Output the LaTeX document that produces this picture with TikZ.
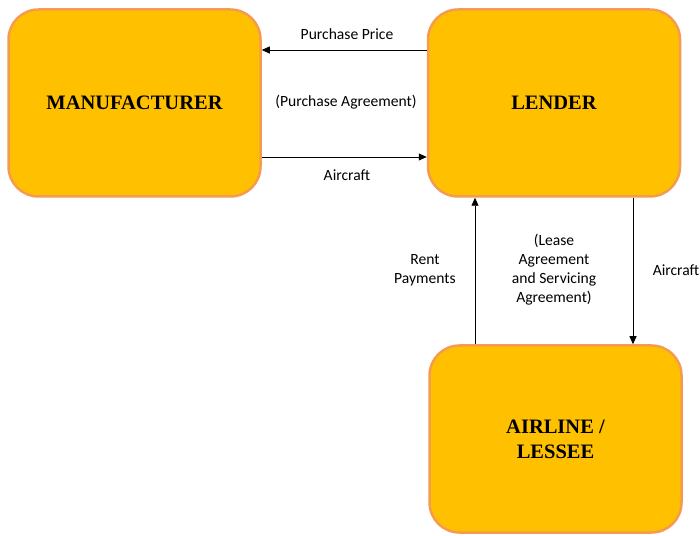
\documentclass[tikz,border=0pt]{standalone}
\usepackage{fontspec}
\setmainfont{Carlito}
\newfontfamily\boxfont{Liberation Serif}
\usetikzlibrary{arrows.meta}
\definecolor{boxfill}{HTML}{FFC000}
\definecolor{boxline}{HTML}{F59B50}
\tikzset{
  entity/.style={draw=boxline, line width=2.5pt, fill=boxfill, rounded corners=30pt,
    minimum width=252pt, minimum height=187pt, font=\boxfont\bfseries\fontsize{20.5}{25}\selectfont,
    align=center, inner sep=0pt},
  arr/.style={line width=0.8pt, -{Triangle[length=8pt,width=7pt]}},
  lbl/.style={font=\fontsize{15.6}{19}\selectfont, align=center, inner sep=0pt}
}
\begin{document}
\begin{tikzpicture}[x=1pt,y=1pt]
\useasboundingbox (0,0) rectangle (700,535);
\node[entity] (man) at (134.5,432) {MANUFACTURER};
\node[entity] (len) at (554,432) {LENDER};
\node[entity] (air) at (555.5,96) {AIRLINE /\\LESSEE};
\coordinate (pp) at (0,485);
\coordinate (ac) at (0,378);
\coordinate (rp) at (475,0);
\coordinate (ad) at (633,0);
\draw[arr] (len.west |- pp) -- (man.east |- pp);
\draw[arr] (man.east |- ac) -- (len.west |- ac);
\draw[arr] (air.north -| rp) -- (len.south -| rp);
\draw[arr] (len.south -| ad) -- (air.north -| ad);
\node[lbl] (l1) at (347,501) {Purchase Price};
\node[lbl] (l2) at (346,433) {(Purchase Agreement)};
\node[lbl] (l3) at (347,360) {Aircraft};
\node[lbl] (l4) at (425,265) {Rent\\Payments};
\node[lbl] (l5) at (554,265) {(Lease\\Agreement\\and Servicing\\Agreement)};
\node[lbl] (l6) at (676,265) {Aircraft};
\end{tikzpicture}
\end{document}
